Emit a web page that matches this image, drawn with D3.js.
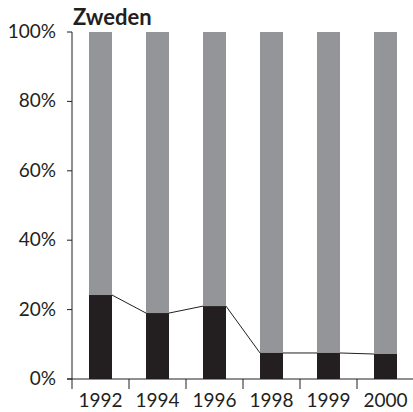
<!DOCTYPE html>
<html>
<head>
<meta charset="utf-8">
<script src="https://cdn.jsdelivr.net/npm/d3@7"></script>
<style>
  body { margin: 0; background: #fff; }
  text { font-family: "Lato", "Noto Sans", sans-serif; fill: #231f20; }
</style>
</head>
<body>
<svg width="413" height="412"></svg>
<script>
const years = ["1992", "1994", "1996", "1998", "1999", "2000"]
const lowerShare = [24.2, 19.0, 21.0, 7.5, 7.5, 7.2]
const yTicks = [0, 20, 40, 60, 80, 100]

const svg = d3.select("svg")
const plotLeft = 72, plotRight = 414, plotTop = 32, plotBottom = 379

const x = d3.scaleBand().domain(years).range([plotLeft, plotRight]).paddingInner(0).paddingOuter(0)
const y = d3.scaleLinear().domain([0, 100]).range([plotBottom, plotTop])
const barW = 23

const g = svg.append("g")

// grey remainder (full 100% bar)
g.selectAll("rect.rest")
  .data(years)
  .enter().append("rect")
  .attr("class", "rest")
  .attr("x", d => x(d) + x.bandwidth() / 2 - barW / 2)
  .attr("y", y(100))
  .attr("width", barW)
  .attr("height", y(0) - y(100))
  .attr("fill", "#939598")

// black share
g.selectAll("rect.share")
  .data(lowerShare)
  .enter().append("rect")
  .attr("class", "share")
  .attr("x", (d, i) => x(years[i]) + x.bandwidth() / 2 - barW / 2)
  .attr("y", d => y(d))
  .attr("width", barW)
  .attr("height", d => y(0) - y(d))
  .attr("fill", "#231f20")

// series lines between bar tops
const segs = d3.pairs(lowerShare.map((v, i) => ({v: v, cx: x(years[i]) + x.bandwidth() / 2})))
g.selectAll("line.series")
  .data(segs)
  .enter().append("line")
  .attr("x1", d => d[0].cx + barW / 2)
  .attr("y1", d => y(d[0].v))
  .attr("x2", d => d[1].cx - barW / 2)
  .attr("y2", d => y(d[1].v))
  .attr("stroke", "#231f20")
  .attr("stroke-width", 1)

// y axis
const yAxis = svg.append("g")
yAxis.append("line")
  .attr("x1", plotLeft).attr("x2", plotLeft)
  .attr("y1", plotTop).attr("y2", plotBottom + 10)
  .attr("stroke", "#231f20")
yAxis.selectAll("line.tick")
  .data(yTicks)
  .enter().append("line")
  .attr("x1", plotLeft - 5).attr("x2", plotLeft)
  .attr("y1", d => y(d)).attr("y2", d => y(d))
  .attr("stroke", "#231f20")
yAxis.selectAll("text")
  .data(yTicks)
  .enter().append("text")
  .attr("x", 56)
  .attr("y", d => y(d) + 6)
  .attr("text-anchor", "end")
  .style("font-size", "19px")
  .text(d => d + "%")

// x axis
const xAxis = svg.append("g")
xAxis.append("line")
  .attr("x1", plotLeft - 5).attr("x2", 413)
  .attr("y1", plotBottom).attr("y2", plotBottom)
  .attr("stroke", "#231f20")
xAxis.selectAll("line.tick")
  .data(years.slice(1))
  .enter().append("line")
  .attr("x1", d => x(d)).attr("x2", d => x(d))
  .attr("y1", plotBottom).attr("y2", plotBottom + 10)
  .attr("stroke", "#231f20")
xAxis.selectAll("text")
  .data(years)
  .enter().append("text")
  .attr("x", d => x(d) + x.bandwidth() / 2)
  .attr("y", 407)
  .attr("text-anchor", "middle")
  .style("font-size", "19px")
  .text(d => d)

svg.append("text")
  .attr("x", 73)
  .attr("y", 25)
  .style("font-size", "22px")
  .style("font-weight", "bold")
  .text("Zweden")
</script>
</body>
</html>
